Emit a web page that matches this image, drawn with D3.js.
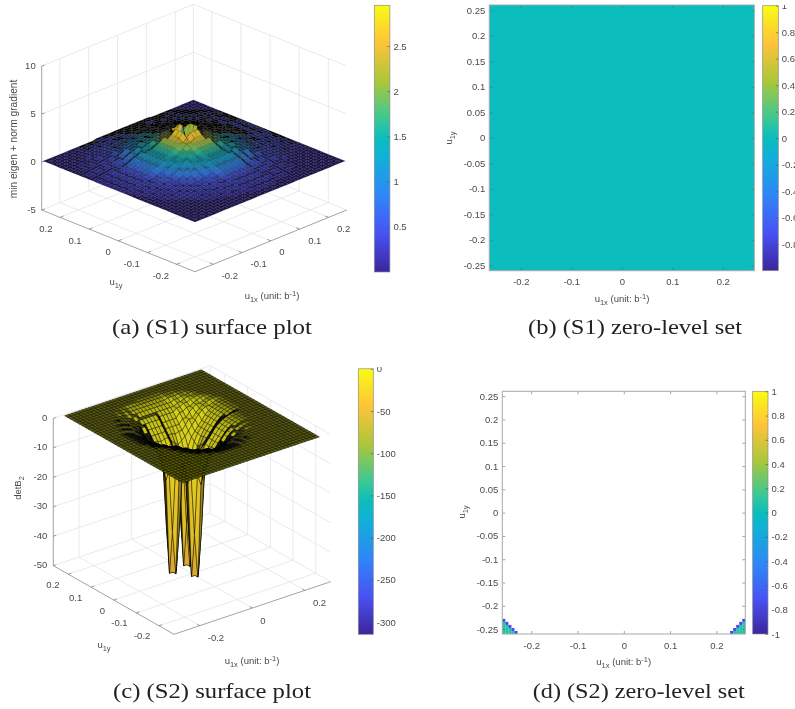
<!DOCTYPE html>
<html>
<head>
<meta charset="utf-8">
<style>
  html, body { margin: 0; padding: 0; background: #fff; }
  svg { display: block; filter: blur(0.35px); }
  text { font-family: "Liberation Sans", Arial, sans-serif; fill: #4a4a4a; }
  .caption { font-family: "Liberation Serif", serif; fill: #222; }
</style>
<script src="https://cdn.jsdelivr.net/npm/d3@7"></script>
</head>
<body>
<div id="chart"></div>
<script>
// colour map
const parulaStops = [0, 0.143, 0.286, 0.43, 0.5, 0.571, 0.714, 0.857, 1];
const parulaColors = ["#3c259c", "#4852f4", "#2e87f7", "#10b0d8", "#0bbdbd", "#37c897", "#abc739", "#fec338", "#f9fb15"];

// tick labels
const s1XTicks = [-0.2, -0.1, 0, 0.1, 0.2];
const s1YTicks = [-0.2, -0.1, 0, 0.1, 0.2];
const s1ZTicks = [-5, 0, 5, 10];
const s2XTicks = [-0.2, 0, 0.2];
const s2YTicks = [-0.2, -0.1, 0, 0.1, 0.2];
const s2ZTicks = [-50, -40, -30, -20, -10, 0];
const levelXTicks = [-0.2, -0.1, 0, 0.1, 0.2];
const levelYTicks = [-0.25, -0.2, -0.15, -0.1, -0.05, 0, 0.05, 0.1, 0.15, 0.2, 0.25];
const s1BarTicks = [0.5, 1, 1.5, 2, 2.5];
const s1LevelBarTicks = [-0.8, -0.6, -0.4, -0.2, 0, 0.2, 0.4, 0.6, 0.8, 1];
const s2BarTicks = [-300, -250, -200, -150, -100, -50, 0];
const s2LevelBarTicks = [-1, -0.8, -0.6, -0.4, -0.2, 0, 0.2, 0.4, 0.6, 0.8, 1];

// (S1) surface, heights in tenths, row 0 is u1y = -0.26, column 0 is u1x = -0.26
const s1Heights = [
[1,1,1,1,1,1,1,1,1,1,1,1,1,1,1,1,1,1,1,1,1,1,1,1,1,1,1,1,1,1,1,1,1,1,1,1,1,1,1,1,1],
[1,1,1,1,1,1,1,1,1,1,1,1,1,1,1,1,1,1,1,1,1,1,1,1,1,1,1,1,1,1,1,1,1,1,1,1,1,1,1,1,1],
[1,1,1,1,1,1,1,1,1,1,1,1,1,1,1,1,1,1,1,1,1,1,1,1,1,1,1,1,1,1,1,1,1,1,1,1,1,1,1,1,1],
[1,1,1,1,1,1,1,1,1,1,1,1,1,1,1,1,1,1,2,2,2,2,2,2,2,1,1,1,1,1,1,1,1,1,1,1,1,1,1,1,1],
[1,1,1,1,1,1,1,1,1,1,1,1,1,1,2,2,2,2,2,2,2,2,2,2,2,2,2,2,2,1,1,1,1,1,1,1,1,1,1,1,1],
[1,1,1,1,1,1,1,1,1,1,1,1,2,2,2,2,2,3,3,3,3,3,3,3,3,3,2,2,2,2,2,1,1,1,1,1,1,1,1,1,1],
[1,1,1,1,1,1,1,1,1,1,2,2,2,2,3,3,3,3,3,3,3,3,3,3,3,3,3,3,3,2,2,2,2,1,1,1,1,1,1,1,1],
[1,1,1,1,1,1,1,1,1,2,2,2,3,3,3,3,3,3,4,4,4,4,4,4,4,3,3,3,3,3,3,2,2,2,1,1,1,1,1,1,1],
[1,1,1,1,1,1,1,1,2,2,2,3,3,3,3,4,4,4,4,4,4,4,4,4,4,4,4,4,3,3,3,3,2,2,2,1,1,1,1,1,1],
[1,1,1,1,1,1,1,2,2,3,3,3,3,4,4,4,4,4,5,5,5,5,5,5,5,4,4,4,4,4,3,3,3,3,2,2,1,1,1,1,1],
[1,1,1,1,1,1,2,2,3,3,3,4,4,4,4,5,5,5,6,6,6,6,6,6,6,5,5,5,4,4,4,4,3,3,3,2,2,1,1,1,1],
[1,1,1,1,1,2,2,3,3,3,4,4,4,5,5,6,6,6,8,8,8,8,8,8,8,6,6,6,5,5,4,4,4,3,3,3,2,2,1,1,1],
[1,1,1,1,2,2,2,3,3,4,4,4,5,5,6,6,8,8,10,10,10,10,10,10,10,8,8,6,6,5,5,4,4,4,3,3,2,2,2,1,1],
[1,1,1,1,2,2,3,3,4,4,4,5,6,6,8,8,10,10,11,11,11,11,11,11,11,10,10,8,8,6,6,5,4,4,4,3,3,2,2,1,1],
[1,1,1,2,2,3,3,3,4,4,5,6,6,8,10,10,11,11,13,13,13,13,13,13,13,11,11,10,10,8,6,6,5,4,4,3,3,3,2,2,1],
[1,1,1,2,2,3,3,4,4,5,5,6,8,10,10,11,13,13,13,14,14,14,14,14,13,13,13,11,10,10,8,6,5,5,4,4,3,3,2,2,1],
[1,1,2,2,3,3,3,4,4,5,6,8,10,10,11,13,13,14,14,15,15,15,15,15,14,14,13,13,11,10,10,8,6,5,4,4,3,3,3,2,1],
[1,1,2,2,3,3,4,4,5,6,6,8,10,11,13,14,14,15,15,17,17,17,17,17,15,15,14,14,13,11,10,8,6,6,5,4,4,3,3,2,1],
[1,1,2,2,3,3,4,4,5,6,8,10,11,13,13,14,15,17,17,19,19,19,19,19,17,17,15,14,13,13,11,10,8,6,5,4,4,3,3,2,1],
[1,2,2,3,3,4,4,4,5,6,8,10,11,13,14,15,17,17,19,22,22,22,22,22,19,17,17,15,14,13,11,10,8,6,5,4,4,4,3,3,1],
[1,2,2,3,3,4,4,5,6,8,10,11,13,13,14,15,17,19,22,22,25,25,25,22,22,19,17,15,14,13,13,11,10,8,6,5,4,4,3,3,1],
[1,2,2,3,3,4,4,5,6,8,10,11,13,14,15,17,19,22,22,25,29,29,29,25,22,22,19,17,15,14,13,11,10,8,6,5,4,4,3,3,1],
[1,2,2,3,3,4,4,5,6,8,10,11,13,14,15,17,19,22,25,29,18,14,18,29,25,22,19,17,15,14,13,11,10,8,6,5,4,4,3,3,1],
[1,2,2,3,3,4,4,5,6,8,10,11,13,14,15,17,19,22,25,29,12,6,14,29,25,22,19,17,15,14,13,11,10,8,6,5,4,4,3,3,1],
[1,2,2,3,3,4,4,5,6,8,10,11,13,14,15,17,19,22,25,29,14,30,12,29,25,22,19,17,15,14,13,11,10,8,6,5,4,4,3,3,1],
[1,2,2,3,3,4,4,5,6,8,10,11,13,14,15,17,19,22,22,25,20,30,20,25,22,22,19,17,15,14,13,11,10,8,6,5,4,4,3,3,1],
[1,2,2,3,3,4,4,5,6,8,10,11,13,13,14,15,17,19,22,22,25,25,25,22,22,19,17,15,14,13,13,11,10,8,6,5,4,4,3,3,1],
[1,2,2,3,3,4,4,4,5,6,8,10,11,13,14,15,17,17,19,22,22,22,22,22,19,17,17,15,14,13,11,10,8,6,5,4,4,4,3,3,1],
[1,1,2,2,3,3,4,4,5,6,8,10,11,13,13,14,15,17,17,19,19,19,19,19,17,17,15,14,13,13,11,10,8,6,5,4,4,3,3,2,1],
[1,1,2,2,3,3,4,4,5,6,6,8,10,11,13,14,14,15,15,17,17,17,17,17,15,15,14,14,13,11,10,8,6,6,5,4,4,3,3,2,1],
[1,1,2,2,3,3,3,4,4,5,6,8,10,10,11,13,13,14,14,15,15,15,15,15,14,14,13,13,11,10,10,8,6,5,4,4,3,3,3,2,1],
[1,1,1,2,2,3,3,4,4,5,5,6,8,10,10,11,13,13,13,14,14,14,14,14,13,13,13,11,10,10,8,6,5,5,4,4,3,3,2,2,1],
[1,1,1,2,2,3,3,3,4,4,5,6,6,8,10,10,11,11,13,13,13,13,13,13,13,11,11,10,10,8,6,6,5,4,4,3,3,3,2,2,1],
[1,1,1,1,2,2,3,3,4,4,4,5,6,6,8,8,10,10,11,11,11,11,11,11,11,10,10,8,8,6,6,5,4,4,4,3,3,2,2,1,1],
[1,1,1,1,2,2,2,3,3,4,4,4,5,5,6,6,8,8,10,10,10,10,10,10,10,8,8,6,6,5,5,4,4,4,3,3,2,2,2,1,1],
[1,1,1,1,1,2,2,3,3,3,4,4,4,5,5,6,6,6,8,8,8,8,8,8,8,6,6,6,5,5,4,4,4,3,3,3,2,2,1,1,1],
[1,1,1,1,1,1,2,2,3,3,3,4,4,4,4,5,5,5,6,6,6,6,6,6,6,5,5,5,4,4,4,4,3,3,3,2,2,1,1,1,1],
[1,1,1,1,1,1,1,2,2,3,3,3,3,4,4,4,4,4,5,5,5,5,5,5,5,4,4,4,4,4,3,3,3,3,2,2,1,1,1,1,1],
[1,1,1,1,1,1,1,1,2,2,2,3,3,3,3,4,4,4,4,4,4,4,4,4,4,4,4,4,3,3,3,3,2,2,2,1,1,1,1,1,1],
[1,1,1,1,1,1,1,1,1,2,2,2,2,2,3,3,3,3,3,3,3,3,3,3,3,3,3,3,3,2,2,2,2,2,1,1,1,1,1,1,1],
[1,1,1,1,1,1,1,1,1,1,1,1,1,1,2,2,2,2,2,2,2,2,2,2,2,2,2,2,2,1,1,1,1,1,1,1,1,1,1,1,1]
];

// (S2) surface, heights in tenths, only the part around the wells (rows 7..36, columns 5..34), flat 0 elsewhere
const s2PatchRow = 7;
const s2PatchCol = 5;
const s2Patch = [
[0,0,0,0,0,0,0,0,0,0,0,0,-1,-1,-1,-1,-1,-1,-1,0,0,0,0,0,0,0,0,0,0,0],
[0,0,0,0,0,0,0,0,0,0,-1,-1,-3,-3,-3,-3,-3,-3,-3,-1,-1,0,0,0,0,0,0,0,0,0],
[0,0,0,0,0,0,0,0,-1,-1,-3,-3,-7,-7,-7,-7,-7,-7,-7,-3,-3,-1,-1,0,0,0,0,0,0,0],
[0,0,0,0,0,0,0,-1,-3,-3,-7,-7,-12,-12,-12,-12,-12,-12,-12,-7,-7,-3,-3,-1,0,0,0,0,0,0],
[0,0,0,0,0,0,-1,-3,-3,-7,-12,-12,-12,-20,-20,-20,-20,-20,-12,-12,-12,-7,-3,-3,-1,0,0,0,0,0],
[0,0,0,0,0,-1,-3,-3,-7,-12,-12,-20,-20,-30,-30,-30,-30,-30,-20,-20,-12,-12,-7,-3,-3,-1,0,0,0,0],
[0,0,0,0,0,-1,-3,-7,-12,-20,-20,-30,-30,-45,-45,-45,-45,-45,-30,-30,-20,-20,-12,-7,-3,-1,0,0,0,0],
[0,0,0,0,-1,-3,-7,-12,-12,-20,-30,-45,-45,-60,-60,-60,-60,-60,-45,-45,-30,-20,-12,-12,-7,-3,-1,0,0,0],
[0,0,0,0,-1,-3,-7,-12,-20,-30,-45,-45,-60,-75,-75,-80,-75,-75,-60,-45,-45,-30,-20,-12,-7,-3,-1,0,0,0],
[0,0,0,-1,-3,-7,-12,-12,-20,-30,-45,-60,-75,-90,-100,-110,-100,-90,-75,-60,-45,-30,-20,-12,-12,-7,-3,-1,0,0],
[0,0,-1,-3,-7,-12,-20,-20,-30,-45,-60,-75,-90,-120,-140,-180,-140,-120,-90,-75,-60,-45,-30,-20,-12,-7,-3,-1,0,0],
[0,-1,-3,-7,-12,-12,-20,-30,-45,-45,-60,-75,-100,-140,-350,-600,-350,-140,-100,-75,-60,-45,-30,-20,-12,-7,-3,-1,0,0],
[0,-1,-3,-7,-12,-20,-30,-45,-45,-60,-75,-80,-110,-180,-600,-3150,-600,-180,-110,-80,-60,-45,-30,-20,-12,-7,-3,-1,0,0],
[-1,-3,-7,-12,-12,-20,-30,-45,-60,-75,-90,-100,-110,-140,-350,-600,-350,-140,-100,-75,-60,-45,-30,-20,-12,-7,-3,-1,0,0],
[-1,-3,-7,-12,-20,-30,-45,-60,-75,-90,-120,-140,-180,-140,-140,-180,-140,-120,-100,-90,-75,-60,-45,-30,-20,-12,-12,-7,-3,-1],
[-1,-3,-7,-12,-20,-30,-45,-60,-75,-100,-140,-350,-600,-350,-140,-120,-140,-180,-140,-120,-90,-75,-60,-45,-30,-20,-12,-7,-3,-1],
[-1,-3,-7,-12,-20,-30,-45,-60,-80,-110,-180,-600,-3150,-600,-180,-140,-350,-600,-350,-140,-100,-75,-60,-45,-30,-20,-12,-7,-3,-1],
[-1,-3,-7,-12,-20,-30,-45,-60,-75,-100,-140,-350,-600,-350,-140,-180,-600,-3150,-600,-180,-110,-80,-60,-45,-30,-20,-12,-7,-3,-1],
[-1,-3,-7,-12,-20,-30,-45,-60,-75,-90,-120,-140,-180,-140,-120,-140,-350,-600,-350,-140,-100,-75,-60,-45,-30,-20,-12,-7,-3,-1],
[-1,-3,-7,-12,-12,-20,-30,-45,-60,-75,-90,-100,-110,-100,-90,-120,-140,-180,-140,-120,-90,-75,-60,-45,-30,-20,-12,-7,-3,-1],
[0,-1,-3,-7,-12,-20,-30,-45,-45,-60,-75,-75,-80,-75,-75,-90,-100,-110,-100,-90,-75,-60,-45,-30,-20,-12,-12,-7,-3,-1],
[0,-1,-3,-7,-12,-12,-20,-30,-45,-45,-60,-60,-60,-60,-60,-75,-75,-80,-75,-75,-60,-45,-45,-30,-20,-12,-7,-3,-1,0],
[0,0,-1,-3,-7,-12,-20,-20,-30,-30,-45,-45,-45,-45,-45,-60,-60,-60,-60,-60,-45,-45,-30,-20,-12,-12,-7,-3,-1,0],
[0,0,-1,-3,-7,-12,-12,-20,-20,-30,-30,-30,-30,-30,-30,-45,-45,-45,-45,-45,-30,-30,-20,-20,-12,-7,-3,-1,0,0],
[0,0,0,-1,-3,-7,-12,-12,-20,-20,-20,-20,-20,-20,-20,-30,-30,-30,-30,-30,-20,-20,-12,-12,-7,-3,-1,0,0,0],
[0,0,0,-1,-3,-3,-7,-12,-12,-12,-20,-20,-20,-20,-20,-20,-20,-20,-20,-20,-20,-12,-12,-7,-3,-3,-1,0,0,0],
[0,0,0,0,-1,-3,-3,-7,-7,-12,-12,-12,-12,-12,-12,-12,-12,-12,-12,-12,-12,-7,-7,-3,-3,-1,0,0,0,0],
[0,0,0,0,0,-1,-1,-3,-3,-7,-7,-7,-7,-7,-7,-7,-7,-7,-7,-7,-3,-3,-3,-1,-1,0,0,0,0,0],
[0,0,0,0,0,0,0,-1,-1,-3,-3,-3,-3,-3,-3,-3,-3,-3,-3,-3,-1,-1,-1,0,0,0,0,0,0,0],
[0,0,0,0,0,0,0,0,0,0,0,0,0,-1,-1,-1,-1,-1,-1,-1,0,0,0,0,0,0,0,0,0,0]
];

// (b) everything sits on the zero level
const s1LevelValue = 0;

// (d) cells of the lower left corner on the 80 x 80 grid, the lower right corner mirrors it
const cornerCol = [0, 0, 0, 0, 1, 1, 1, 2, 2, 3, 0, 1, 2, 3, 4];
const cornerRow = [0, 1, 2, 3, 0, 1, 2, 0, 1, 0, 4, 3, 2, 1, 0];
const cornerValue = [0.07, 0.07, 0.07, 0.07, 0.07, 0.07, 0.07, 0.07, 0.07, 0.07, -0.75, -0.75, -0.75, -0.75, -0.75];

const width = 795;
const height = 709;
const tickFontSize = 9.5;
const gridColor = "#e4e4e4";
const axisColor = "#8c8c8c";

const parula = d3.scaleLinear().domain(parulaStops).range(parulaColors).clamp(true);

const svg = d3.select("#chart").append("svg")
    .attr("width", width)
    .attr("height", height);

const defs = svg.append("defs");

// gradient for the colorbars
const gradient = defs.append("linearGradient")
    .attr("id", "parula")
    .attr("x1", 0).attr("x2", 0).attr("y1", 1).attr("y2", 0);
gradient.selectAll("stop")
    .data(parulaStops)
    .join("stop")
    .attr("offset", d => d)
    .attr("stop-color", (d, i) => parulaColors[i]);

function subLabel(g, x, y, rotate, parts, size) {
    const text = g.append("text")
        .attr("text-anchor", "middle")
        .attr("font-size", size)
        .attr("transform", `translate(${x},${y}) rotate(${rotate})`);
    parts.forEach(p => {
        text.append("tspan")
            .attr("dy", p.dy || 0)
            .attr("font-size", p.size || size)
            .text(p.text);
    });
}

function u1xLabel(g, x, y) {
    subLabel(g, x, y, 0, [
        { text: "u" },
        { text: "1x", dy: 3, size: 7.5 },
        { text: " (unit: b", dy: -3 },
        { text: "-1", dy: -3.5, size: 7.5 },
        { text: ")", dy: 3.5 }
    ], 9.5);
}

function u1yLabel(g, x, y, rotate) {
    subLabel(g, x, y, rotate, [
        { text: "u" },
        { text: "1y", dy: 3, size: 7.5 }
    ], 9.5);
}

function caption(x, y, w, label) {
    svg.append("text")
        .attr("class", "caption")
        .attr("x", x)
        .attr("y", y)
        .attr("font-size", 21)
        .attr("textLength", w)
        .attr("lengthAdjust", "spacingAndGlyphs")
        .text(label);
}

function colorbar(cfg) {
    const scale = d3.scaleLinear().domain(cfg.domain).range([cfg.bottom, cfg.top]);
    const g = svg.append("g");
    g.append("rect")
        .attr("x", cfg.x)
        .attr("y", cfg.top)
        .attr("width", cfg.w)
        .attr("height", cfg.bottom - cfg.top)
        .attr("fill", "url(#parula)")
        .attr("stroke", axisColor)
        .attr("stroke-width", 0.7);
    const axis = d3.axisRight(scale)
        .tickValues(cfg.ticks)
        .tickSize(-2.5)
        .tickPadding(3.5)
        .tickFormat(d => String(d));
    const ag = g.append("g")
        .attr("transform", `translate(${cfg.x + cfg.w},0)`)
        .call(axis);
    ag.select(".domain").remove();
    ag.selectAll("line").attr("stroke", "#555").attr("stroke-width", 0.6);
    ag.selectAll("text").attr("font-size", tickFontSize).attr("font-family", null).attr("fill", "#4a4a4a");
    ag.attr("font-family", null).attr("font-size", null);
}

function surfacePanel(cfg) {
    const g = svg.append("g");
    const xmin = cfg.xDomain[0], xmax = cfg.xDomain[1];
    const ymin = cfg.yDomain[0], ymax = cfg.yDomain[1];
    const zmin = cfg.zDomain[0], zmax = cfg.zDomain[1];

    // axis box scales: x runs from the front corner to the right corner, y to the left corner
    const xPx = d3.scaleLinear().domain(cfg.xDomain).range([0, cfg.right[0] - cfg.front[0]]);
    const xPy = d3.scaleLinear().domain(cfg.xDomain).range([0, cfg.right[1] - cfg.front[1]]);
    const yPx = d3.scaleLinear().domain(cfg.yDomain).range([0, cfg.left[0] - cfg.front[0]]);
    const yPy = d3.scaleLinear().domain(cfg.yDomain).range([0, cfg.left[1] - cfg.front[1]]);
    const zPy = d3.scaleLinear().domain(cfg.zDomain).range([0, -cfg.zHeight]);
    const project = (x, y, z) => [
        cfg.front[0] + xPx(x) + yPx(y),
        cfg.front[1] + xPy(x) + yPy(y) + zPy(z)
    ];
    const segment = (sel, a, b, color, w) => sel.append("line")
        .attr("x1", a[0]).attr("y1", a[1]).attr("x2", b[0]).attr("y2", b[1])
        .attr("stroke", color).attr("stroke-width", w);

    // grid on the floor and the two back walls
    const grid = g.append("g");
    cfg.xTicks.forEach(x => {
        segment(grid, project(x, ymin, zmin), project(x, ymax, zmin), gridColor, 0.8);
        segment(grid, project(x, ymax, zmin), project(x, ymax, zmax), gridColor, 0.8);
    });
    cfg.yTicks.forEach(y => {
        segment(grid, project(xmin, y, zmin), project(xmax, y, zmin), gridColor, 0.8);
        segment(grid, project(xmax, y, zmin), project(xmax, y, zmax), gridColor, 0.8);
    });
    cfg.zTicks.forEach(z => {
        segment(grid, project(xmin, ymax, z), project(xmax, ymax, z), gridColor, 0.8);
        segment(grid, project(xmax, ymax, z), project(xmax, ymin, z), gridColor, 0.8);
    });
    segment(grid, project(xmax, ymax, zmin), project(xmax, ymax, zmax), gridColor, 0.8);

    // rulers
    const rulers = g.append("g");
    segment(rulers, project(xmin, ymin, zmin), project(xmax, ymin, zmin), axisColor, 0.8);
    segment(rulers, project(xmin, ymin, zmin), project(xmin, ymax, zmin), axisColor, 0.8);
    segment(rulers, project(xmin, ymax, zmin), project(xmin, ymax, zmax), axisColor, 0.8);

    cfg.xTicks.forEach(x => {
        const p = project(x, ymin, zmin);
        segment(rulers, p, project(x, ymin + 0.012, zmin), "#666", 0.6);
        rulers.append("text").attr("x", p[0] + cfg.xLabelOffset[0]).attr("y", p[1] + cfg.xLabelOffset[1])
            .attr("text-anchor", "start").attr("font-size", tickFontSize).text(String(x));
    });
    cfg.yTicks.forEach(y => {
        const p = project(xmin, y, zmin);
        segment(rulers, p, project(xmin + 0.012, y, zmin), "#666", 0.6);
        rulers.append("text").attr("x", p[0] + cfg.yLabelOffset[0]).attr("y", p[1] + cfg.yLabelOffset[1])
            .attr("text-anchor", "end").attr("font-size", tickFontSize).text(String(y));
    });
    cfg.zTicks.forEach(z => {
        const p = project(xmin, ymax, z);
        segment(rulers, p, [p[0] + 3, p[1] - 1], "#666", 0.6);
        rulers.append("text").attr("x", p[0] - 6).attr("y", p[1] + 2.5)
            .attr("text-anchor", "end").attr("font-size", tickFontSize).text(String(z));
    });

    // surface, back faces first
    const n = cfg.rows.length;
    const nodeU = d3.scaleLinear().domain([0, n - 1]).range([-0.26, 0.26]);
    const corner = (r, c) => {
        const h = cfg.height(r, c);
        return project(nodeU(c), nodeU(r), Math.max(h, zmin));
    };
    const faces = [];
    for (let r = n - 2; r >= 0; r--) {
        for (let c = n - 2; c >= 0; c--) {
            const hs = [cfg.height(r, c), cfg.height(r, c + 1), cfg.height(r + 1, c + 1), cfg.height(r + 1, c)];
            if (d3.max(hs) < zmin) continue;
            faces.push({
                points: [corner(r, c), corner(r, c + 1), corner(r + 1, c + 1), corner(r + 1, c)],
                value: d3.mean(hs, h => Math.max(h, zmin))
            });
        }
    }
    const color = d3.scaleLinear().domain(cfg.barDomain).range([0, 1]);
    const line = d3.line();
    // the black mesh gets denser where a face looks small on screen, so the face goes darker
    const meshCover = pts => {
        const ratio = d3.polygonLength(pts) / Math.max(Math.abs(d3.polygonArea(pts)), 0.01);
        return Math.min(1, cfg.meshDensity * ratio * ratio);
    };
    g.append("g").selectAll("path")
        .data(faces)
        .join("path")
        .attr("d", d => line(d.points) + "Z")
        .attr("fill", d => d3.interpolateRgb(parula(color(d.value)), "#000")(meshCover(d.points)))
        .attr("stroke", "#000")
        .attr("stroke-linejoin", "round")
        .attr("stroke-opacity", cfg.meshOpacity)
        .attr("stroke-width", cfg.meshWidth);
}

function levelPanel(cfg) {
    const g = svg.append("g");
    const x = d3.scaleLinear().domain([-0.2625, 0.2625]).range([cfg.left, cfg.right]);
    const y = d3.scaleLinear().domain([-0.2605, 0.2605]).range([cfg.bottom, cfg.top]);
    const plotW = cfg.right - cfg.left;
    const plotH = cfg.bottom - cfg.top;

    cfg.draw(g, x, y);

    const tick = sel => {
        sel.select(".domain").remove();
        sel.selectAll("line").attr("stroke", "#666").attr("stroke-width", 0.6);
        sel.selectAll("text").attr("font-size", tickFontSize).attr("fill", "#4a4a4a");
        sel.attr("font-family", null).attr("font-size", null);
    };
    g.append("g").attr("transform", `translate(0,${cfg.bottom})`)
        .call(d3.axisBottom(x).tickValues(levelXTicks).tickSize(-3).tickPadding(8).tickFormat(d => String(d))).call(tick);
    g.append("g").attr("transform", `translate(${cfg.left},0)`)
        .call(d3.axisLeft(y).tickValues(levelYTicks).tickSize(-3).tickPadding(4).tickFormat(d => String(d))).call(tick);
    g.append("g").attr("transform", `translate(0,${cfg.top})`)
        .call(d3.axisTop(x).tickValues(levelXTicks).tickSize(-3).tickFormat("")).call(tick);
    g.append("g").attr("transform", `translate(${cfg.right},0)`)
        .call(d3.axisRight(y).tickValues(levelYTicks).tickSize(-3).tickFormat("")).call(tick);

    g.append("rect")
        .attr("x", cfg.left).attr("y", cfg.top)
        .attr("width", plotW).attr("height", plotH)
        .attr("fill", "none")
        .attr("stroke", "#a8a8a8")
        .attr("stroke-width", 1);

    u1xLabel(g, cfg.xLabel[0], cfg.xLabel[1]);
    u1yLabel(g, cfg.yLabel[0], cfg.yLabel[1], -90);
}

// (a)
surfacePanel({
    front: [195, 271.7], right: [346.7, 210], left: [41.7, 210], zHeight: 144,
    xDomain: [-0.263, 0.263], yDomain: [-0.263, 0.263], zDomain: [-5, 10],
    xTicks: s1XTicks, yTicks: s1YTicks, zTicks: s1ZTicks,
    xLabelOffset: [8.5, 14.5], yLabelOffset: [-7.6, 14.5],
    rows: s1Heights,
    height: (r, c) => s1Heights[r][c] / 10,
    barDomain: [0, 2.95],
    meshWidth: 0.3, meshOpacity: 0.45, meshDensity: 0.28
});
svg.append("text").attr("font-size", 10.2)
    .attr("transform", "translate(17,139) rotate(-90)")
    .attr("text-anchor", "middle")
    .text("min eigen + norm gradient");
u1yLabel(svg, 116, 285, 0);
u1xLabel(svg, 272, 299);
colorbar({ x: 374.3, w: 15.6, top: 5.3, bottom: 272, domain: [0, 2.95], ticks: s1BarTicks });
caption(112, 334, 200, "(a) (S1) surface plot");

// (b)
levelPanel({
    left: 489.3, right: 754.3, top: 5, bottom: 270.7,
    xLabel: [622, 302], yLabel: [452, 138],
    draw: (g, x, y) => {
        g.append("rect")
            .attr("x", x(-0.2625)).attr("y", y(0.2605))
            .attr("width", x(0.2625) - x(-0.2625)).attr("height", y(-0.2605) - y(0.2605))
            .attr("fill", parula((s1LevelValue + 1) / 2));
    }
});
colorbar({ x: 762.7, w: 15.6, top: 5.7, bottom: 270.7, domain: [-1, 1], ticks: s1LevelBarTicks });
caption(528, 334, 214, "(b) (S1) zero-level set");

// (c)
surfacePanel({
    front: [174, 634.3], right: [330.7, 581.7], left: [53.3, 565.7], zHeight: 147.4,
    xDomain: [-0.298, 0.298], yDomain: [-0.266, 0.266], zDomain: [-50, 0],
    xTicks: s2XTicks, yTicks: s2YTicks, zTicks: s2ZTicks,
    xLabelOffset: [8, 15.5], yLabelOffset: [-8.7, 13.5],
    rows: d3.range(41),
    height: (r, c) => {
        const row = s2Patch[r - s2PatchRow];
        const v = row ? row[c - s2PatchCol] : undefined;
        return v === undefined ? 0 : v / 10;
    },
    barDomain: [-314.6, 0],
    meshWidth: 0.55, meshOpacity: 0.8, meshDensity: 0.27
});
subLabel(svg, 21, 488, -90, [
    { text: "detB" },
    { text: "2", dy: 3, size: 7.5 }
], 9.5);
u1yLabel(svg, 104, 648, 0);
u1xLabel(svg, 252, 664);
colorbar({ x: 358.3, w: 15, top: 368.8, bottom: 634.3, domain: [-314.6, 0], ticks: s2BarTicks });
caption(113, 697.7, 198, "(c) (S2) surface plot");

// (d)
levelPanel({
    left: 502.3, right: 745.3, top: 391.3, bottom: 634,
    xLabel: [623.7, 665], yLabel: [465, 512],
    draw: (g, x, y) => {
        const colBand = d3.scaleBand().domain(d3.range(80)).range([502.3, 745.3]);
        const rowBand = d3.scaleBand().domain(d3.range(80)).range([634, 391.3]);
        const pick = v => parula((v + 1) / 2);
        const cells = cornerCol.flatMap((c, i) => [
            { col: c, row: cornerRow[i], value: cornerValue[i] },
            { col: 79 - c, row: cornerRow[i], value: cornerValue[i] }
        ]);
        g.selectAll("rect.cell")
            .data(cells)
            .join("rect")
            .attr("class", "cell")
            .attr("x", d => colBand(d.col))
            .attr("y", d => rowBand(d.row))
            .attr("width", colBand.bandwidth())
            .attr("height", rowBand.bandwidth())
            .attr("fill", d => pick(d.value));
    }
});
colorbar({ x: 752.7, w: 15.3, top: 391.3, bottom: 634, domain: [-1, 1], ticks: s2LevelBarTicks });
caption(532.7, 697.7, 212, "(d) (S2) zero-level set");

// the figures were cropped in the source, labels are cut off here
svg.append("rect").attr("x", 755).attr("y", 0).attr("width", 40).attr("height", 5).attr("fill", "#fff");
svg.append("rect").attr("x", 374.5).attr("y", 358).attr("width", 30).attr("height", 9).attr("fill", "#fff");
</script>
</body>
</html>
